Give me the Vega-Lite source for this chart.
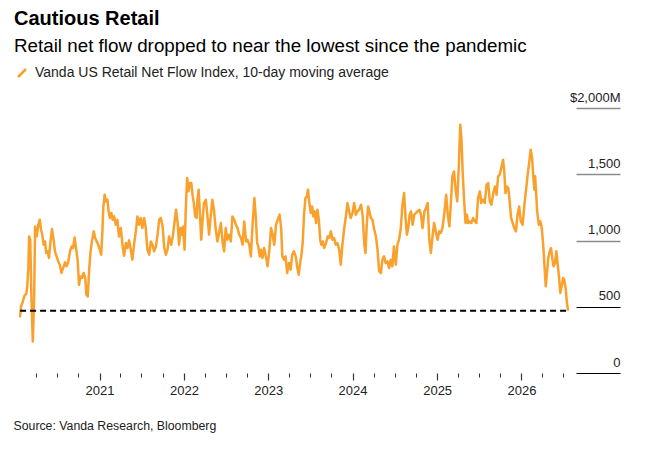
{
  "$schema": "https://vega.github.io/schema/vega-lite/v6.json",
  "width": 561,
  "height": 265,
  "autosize": {"type": "none"},
  "padding": {"left": 15, "top": 108, "right": 89, "bottom": 78},
  "background": "white",
  "config": {
    "font": "Liberation Sans",
    "view": {"stroke": null}
  },
  "title": {
    "text": "Cautious Retail",
    "subtitle": "Retail net flow dropped to near the lowest since the pandemic",
    "anchor": "start",
    "frame": "group",
    "dx": -1,
    "offset": 10,
    "fontSize": 20,
    "fontWeight": "bold",
    "color": "#000",
    "subtitleFontSize": 18.8,
    "subtitleColor": "#000",
    "subtitlePadding": 8
  },
  "datasets": {
    "flows": [
      {"date": "2020-01-23", "flow": 427}, {"date": "2020-01-27", "flow": 503}, {"date": "2020-02-04", "flow": 540},
      {"date": "2020-02-11", "flow": 583}, {"date": "2020-02-19", "flow": 598}, {"date": "2020-02-23", "flow": 654},
      {"date": "2020-02-28", "flow": 805}, {"date": "2020-03-02", "flow": 1031}, {"date": "2020-03-07", "flow": 1006},
      {"date": "2020-03-12", "flow": 578}, {"date": "2020-03-18", "flow": 238}, {"date": "2020-03-24", "flow": 578},
      {"date": "2020-03-28", "flow": 1106}, {"date": "2020-04-04", "flow": 1031}, {"date": "2020-04-11", "flow": 1119},
      {"date": "2020-04-17", "flow": 1157}, {"date": "2020-04-23", "flow": 1081}, {"date": "2020-04-28", "flow": 1044},
      {"date": "2020-05-04", "flow": 968}, {"date": "2020-05-10", "flow": 993}, {"date": "2020-05-15", "flow": 906},
      {"date": "2020-05-21", "flow": 918}, {"date": "2020-05-27", "flow": 868}, {"date": "2020-06-02", "flow": 981},
      {"date": "2020-06-09", "flow": 1087}, {"date": "2020-06-16", "flow": 1006}, {"date": "2020-06-22", "flow": 918},
      {"date": "2020-06-29", "flow": 880}, {"date": "2020-07-06", "flow": 842}, {"date": "2020-07-13", "flow": 817},
      {"date": "2020-07-20", "flow": 755}, {"date": "2020-07-27", "flow": 792}, {"date": "2020-08-05", "flow": 835},
      {"date": "2020-08-11", "flow": 805}, {"date": "2020-08-19", "flow": 842}, {"date": "2020-08-26", "flow": 918},
      {"date": "2020-09-02", "flow": 955}, {"date": "2020-09-08", "flow": 943}, {"date": "2020-09-15", "flow": 1023},
      {"date": "2020-09-23", "flow": 918}, {"date": "2020-09-28", "flow": 855}, {"date": "2020-10-04", "flow": 666},
      {"date": "2020-10-10", "flow": 729}, {"date": "2020-10-17", "flow": 717}, {"date": "2020-10-24", "flow": 755},
      {"date": "2020-10-31", "flow": 717}, {"date": "2020-11-05", "flow": 591}, {"date": "2020-11-11", "flow": 578},
      {"date": "2020-11-17", "flow": 780}, {"date": "2020-11-23", "flow": 918}, {"date": "2020-11-30", "flow": 1006},
      {"date": "2020-12-07", "flow": 1069}, {"date": "2020-12-13", "flow": 1019}, {"date": "2020-12-20", "flow": 993},
      {"date": "2020-12-26", "flow": 968}, {"date": "2021-01-02", "flow": 931}, {"date": "2021-01-08", "flow": 893},
      {"date": "2021-01-13", "flow": 1057}, {"date": "2021-01-17", "flow": 1245}, {"date": "2021-01-23", "flow": 1346},
      {"date": "2021-01-28", "flow": 1295}, {"date": "2021-02-04", "flow": 1308}, {"date": "2021-02-10", "flow": 1208},
      {"date": "2021-02-15", "flow": 1170}, {"date": "2021-02-21", "flow": 1208}, {"date": "2021-02-27", "flow": 1157},
      {"date": "2021-03-05", "flow": 1182}, {"date": "2021-03-12", "flow": 1119}, {"date": "2021-03-19", "flow": 1157},
      {"date": "2021-03-26", "flow": 1031}, {"date": "2021-04-03", "flow": 1094}, {"date": "2021-04-10", "flow": 968},
      {"date": "2021-04-17", "flow": 885}, {"date": "2021-04-25", "flow": 981}, {"date": "2021-05-02", "flow": 943},
      {"date": "2021-05-09", "flow": 1001}, {"date": "2021-05-16", "flow": 931}, {"date": "2021-05-23", "flow": 855},
      {"date": "2021-05-31", "flow": 981}, {"date": "2021-06-07", "flow": 1069}, {"date": "2021-06-14", "flow": 1182},
      {"date": "2021-06-21", "flow": 1119}, {"date": "2021-06-28", "flow": 1170}, {"date": "2021-07-05", "flow": 1094},
      {"date": "2021-07-13", "flow": 1170}, {"date": "2021-07-20", "flow": 1094}, {"date": "2021-07-27", "flow": 931},
      {"date": "2021-08-04", "flow": 893}, {"date": "2021-08-11", "flow": 993}, {"date": "2021-08-18", "flow": 968},
      {"date": "2021-08-25", "flow": 918}, {"date": "2021-09-02", "flow": 955}, {"date": "2021-09-09", "flow": 1044},
      {"date": "2021-09-16", "flow": 1157}, {"date": "2021-09-23", "flow": 1170}, {"date": "2021-10-01", "flow": 1106},
      {"date": "2021-10-08", "flow": 943}, {"date": "2021-10-15", "flow": 893}, {"date": "2021-10-22", "flow": 931},
      {"date": "2021-10-29", "flow": 1031}, {"date": "2021-11-07", "flow": 968}, {"date": "2021-11-14", "flow": 1031},
      {"date": "2021-11-21", "flow": 1132}, {"date": "2021-11-28", "flow": 1232}, {"date": "2021-12-05", "flow": 1132},
      {"date": "2021-12-11", "flow": 968}, {"date": "2021-12-17", "flow": 1094}, {"date": "2021-12-22", "flow": 1044},
      {"date": "2021-12-28", "flow": 1106}, {"date": "2022-01-04", "flow": 931}, {"date": "2022-01-09", "flow": 1232},
      {"date": "2022-01-15", "flow": 1472}, {"date": "2022-01-21", "flow": 1371}, {"date": "2022-01-27", "flow": 1434},
      {"date": "2022-02-02", "flow": 1434}, {"date": "2022-02-08", "flow": 1333}, {"date": "2022-02-13", "flow": 1283},
      {"date": "2022-02-19", "flow": 1182}, {"date": "2022-02-25", "flow": 1170}, {"date": "2022-02-28", "flow": 1295},
      {"date": "2022-03-06", "flow": 1383}, {"date": "2022-03-11", "flow": 1208}, {"date": "2022-03-17", "flow": 1006},
      {"date": "2022-03-23", "flow": 1157}, {"date": "2022-03-29", "flow": 1283}, {"date": "2022-04-06", "flow": 1308},
      {"date": "2022-04-13", "flow": 1182}, {"date": "2022-04-20", "flow": 1044}, {"date": "2022-04-27", "flow": 1182},
      {"date": "2022-05-04", "flow": 1308}, {"date": "2022-05-11", "flow": 1232}, {"date": "2022-05-19", "flow": 1081},
      {"date": "2022-05-26", "flow": 993}, {"date": "2022-06-02", "flow": 1057}, {"date": "2022-06-10", "flow": 1132},
      {"date": "2022-06-17", "flow": 993}, {"date": "2022-06-24", "flow": 918}, {"date": "2022-07-01", "flow": 1094},
      {"date": "2022-07-08", "flow": 1006}, {"date": "2022-07-15", "flow": 1044}, {"date": "2022-07-23", "flow": 993},
      {"date": "2022-07-30", "flow": 1182}, {"date": "2022-08-07", "flow": 1157}, {"date": "2022-08-14", "flow": 1119},
      {"date": "2022-08-21", "flow": 1094}, {"date": "2022-08-28", "flow": 1044}, {"date": "2022-09-05", "flow": 1019},
      {"date": "2022-09-12", "flow": 968}, {"date": "2022-09-19", "flow": 1144}, {"date": "2022-09-27", "flow": 993},
      {"date": "2022-10-03", "flow": 1006}, {"date": "2022-10-11", "flow": 968}, {"date": "2022-10-18", "flow": 880},
      {"date": "2022-10-25", "flow": 1119}, {"date": "2022-11-02", "flow": 1321}, {"date": "2022-11-08", "flow": 1182},
      {"date": "2022-11-14", "flow": 981}, {"date": "2022-11-19", "flow": 955}, {"date": "2022-11-25", "flow": 880},
      {"date": "2022-11-30", "flow": 931}, {"date": "2022-12-07", "flow": 868}, {"date": "2022-12-14", "flow": 943},
      {"date": "2022-12-22", "flow": 880}, {"date": "2022-12-29", "flow": 805}, {"date": "2023-01-06", "flow": 931},
      {"date": "2023-01-13", "flow": 1094}, {"date": "2023-01-20", "flow": 1044}, {"date": "2023-01-27", "flow": 968},
      {"date": "2023-02-04", "flow": 1119}, {"date": "2023-02-11", "flow": 1157}, {"date": "2023-02-19", "flow": 1195},
      {"date": "2023-02-26", "flow": 1094}, {"date": "2023-03-03", "flow": 880}, {"date": "2023-03-10", "flow": 855},
      {"date": "2023-03-17", "flow": 880}, {"date": "2023-03-24", "flow": 755}, {"date": "2023-04-01", "flow": 830},
      {"date": "2023-04-08", "flow": 780}, {"date": "2023-04-15", "flow": 893}, {"date": "2023-04-22", "flow": 918},
      {"date": "2023-04-30", "flow": 880}, {"date": "2023-05-07", "flow": 792}, {"date": "2023-05-13", "flow": 742},
      {"date": "2023-05-19", "flow": 830}, {"date": "2023-05-24", "flow": 880}, {"date": "2023-05-30", "flow": 981},
      {"date": "2023-06-05", "flow": 1195}, {"date": "2023-06-11", "flow": 1321}, {"date": "2023-06-17", "flow": 1333},
      {"date": "2023-06-22", "flow": 1383}, {"date": "2023-06-28", "flow": 1283}, {"date": "2023-07-04", "flow": 1208},
      {"date": "2023-07-10", "flow": 1257}, {"date": "2023-07-15", "flow": 1182}, {"date": "2023-07-21", "flow": 1220},
      {"date": "2023-07-27", "flow": 1132}, {"date": "2023-08-02", "flow": 1232}, {"date": "2023-08-08", "flow": 1157},
      {"date": "2023-08-14", "flow": 1006}, {"date": "2023-08-19", "flow": 968}, {"date": "2023-08-25", "flow": 993},
      {"date": "2023-08-31", "flow": 943}, {"date": "2023-09-08", "flow": 981}, {"date": "2023-09-15", "flow": 1031},
      {"date": "2023-09-22", "flow": 1019}, {"date": "2023-09-29", "flow": 1069}, {"date": "2023-10-06", "flow": 1006},
      {"date": "2023-10-13", "flow": 1019}, {"date": "2023-10-20", "flow": 968}, {"date": "2023-10-27", "flow": 981},
      {"date": "2023-11-04", "flow": 931}, {"date": "2023-11-11", "flow": 817}, {"date": "2023-11-18", "flow": 968},
      {"date": "2023-11-25", "flow": 1081}, {"date": "2023-12-03", "flow": 1182}, {"date": "2023-12-10", "flow": 1283},
      {"date": "2023-12-17", "flow": 1220}, {"date": "2023-12-24", "flow": 1170}, {"date": "2024-01-01", "flow": 1208},
      {"date": "2024-01-08", "flow": 1283}, {"date": "2024-01-15", "flow": 1195}, {"date": "2024-01-22", "flow": 1220},
      {"date": "2024-01-29", "flow": 1232}, {"date": "2024-02-07", "flow": 1270}, {"date": "2024-02-14", "flow": 1182},
      {"date": "2024-02-21", "flow": 968}, {"date": "2024-02-26", "flow": 906}, {"date": "2024-03-02", "flow": 1106},
      {"date": "2024-03-08", "flow": 1257}, {"date": "2024-03-14", "flow": 1220}, {"date": "2024-03-20", "flow": 1170},
      {"date": "2024-03-27", "flow": 1157}, {"date": "2024-04-04", "flow": 1081}, {"date": "2024-04-11", "flow": 1031},
      {"date": "2024-04-18", "flow": 931}, {"date": "2024-04-25", "flow": 767}, {"date": "2024-05-03", "flow": 755},
      {"date": "2024-05-09", "flow": 855}, {"date": "2024-05-16", "flow": 880}, {"date": "2024-05-23", "flow": 830},
      {"date": "2024-05-31", "flow": 842}, {"date": "2024-06-07", "flow": 792}, {"date": "2024-06-14", "flow": 855},
      {"date": "2024-06-21", "flow": 805}, {"date": "2024-06-28", "flow": 955}, {"date": "2024-07-06", "flow": 817},
      {"date": "2024-07-13", "flow": 968}, {"date": "2024-07-20", "flow": 1006}, {"date": "2024-07-27", "flow": 1081},
      {"date": "2024-08-04", "flow": 1270}, {"date": "2024-08-11", "flow": 1358}, {"date": "2024-08-17", "flow": 1182},
      {"date": "2024-08-23", "flow": 1044}, {"date": "2024-08-29", "flow": 1094}, {"date": "2024-09-04", "flow": 1195},
      {"date": "2024-09-10", "flow": 1220}, {"date": "2024-09-17", "flow": 1119}, {"date": "2024-09-24", "flow": 1195},
      {"date": "2024-10-02", "flow": 1208}, {"date": "2024-10-08", "flow": 1220}, {"date": "2024-10-16", "flow": 1232},
      {"date": "2024-10-23", "flow": 1195}, {"date": "2024-10-30", "flow": 1094}, {"date": "2024-11-07", "flow": 1220},
      {"date": "2024-11-14", "flow": 1245}, {"date": "2024-11-21", "flow": 1283}, {"date": "2024-11-28", "flow": 1006},
      {"date": "2024-12-05", "flow": 906}, {"date": "2024-12-12", "flow": 1031}, {"date": "2024-12-19", "flow": 1132},
      {"date": "2024-12-26", "flow": 1069}, {"date": "2025-01-03", "flow": 1006}, {"date": "2025-01-10", "flow": 1069},
      {"date": "2025-01-17", "flow": 1057}, {"date": "2025-01-24", "flow": 1094}, {"date": "2025-02-02", "flow": 1220},
      {"date": "2025-02-09", "flow": 1346}, {"date": "2025-02-16", "flow": 1195}, {"date": "2025-02-23", "flow": 1106},
      {"date": "2025-03-01", "flow": 1270}, {"date": "2025-03-08", "flow": 1484}, {"date": "2025-03-15", "flow": 1521},
      {"date": "2025-03-22", "flow": 1383}, {"date": "2025-03-29", "flow": 1295}, {"date": "2025-04-05", "flow": 1572},
      {"date": "2025-04-11", "flow": 1874}, {"date": "2025-04-16", "flow": 1774}, {"date": "2025-04-22", "flow": 1497},
      {"date": "2025-04-28", "flow": 1295}, {"date": "2025-05-04", "flow": 1132}, {"date": "2025-05-10", "flow": 1195},
      {"date": "2025-05-15", "flow": 1132}, {"date": "2025-05-22", "flow": 1144}, {"date": "2025-05-29", "flow": 1132},
      {"date": "2025-06-06", "flow": 1170}, {"date": "2025-06-13", "flow": 1144}, {"date": "2025-06-20", "flow": 1132},
      {"date": "2025-06-27", "flow": 1321}, {"date": "2025-07-05", "flow": 1371}, {"date": "2025-07-11", "flow": 1283},
      {"date": "2025-07-19", "flow": 1308}, {"date": "2025-07-26", "flow": 1283}, {"date": "2025-08-03", "flow": 1421},
      {"date": "2025-08-10", "flow": 1434}, {"date": "2025-08-17", "flow": 1295}, {"date": "2025-08-24", "flow": 1270},
      {"date": "2025-09-01", "flow": 1358}, {"date": "2025-09-08", "flow": 1408}, {"date": "2025-09-15", "flow": 1346},
      {"date": "2025-09-22", "flow": 1484}, {"date": "2025-09-29", "flow": 1497}, {"date": "2025-10-07", "flow": 1559},
      {"date": "2025-10-13", "flow": 1610}, {"date": "2025-10-18", "flow": 1534}, {"date": "2025-10-24", "flow": 1358},
      {"date": "2025-10-30", "flow": 1408}, {"date": "2025-11-05", "flow": 1396}, {"date": "2025-11-11", "flow": 1295},
      {"date": "2025-11-17", "flow": 1170}, {"date": "2025-11-24", "flow": 1132}, {"date": "2025-12-01", "flow": 1094},
      {"date": "2025-12-08", "flow": 1069}, {"date": "2025-12-15", "flow": 1195}, {"date": "2025-12-22", "flow": 1257},
      {"date": "2025-12-29", "flow": 1144}, {"date": "2026-01-06", "flow": 1119}, {"date": "2026-01-13", "flow": 1257},
      {"date": "2026-01-20", "flow": 1371}, {"date": "2026-01-27", "flow": 1484}, {"date": "2026-02-04", "flow": 1597},
      {"date": "2026-02-10", "flow": 1685}, {"date": "2026-02-16", "flow": 1623}, {"date": "2026-02-21", "flow": 1484},
      {"date": "2026-02-26", "flow": 1383}, {"date": "2026-03-01", "flow": 1484}, {"date": "2026-03-05", "flow": 1371},
      {"date": "2026-03-10", "flow": 1220}, {"date": "2026-03-17", "flow": 1119}, {"date": "2026-03-24", "flow": 1144},
      {"date": "2026-03-30", "flow": 1094}, {"date": "2026-04-06", "flow": 943}, {"date": "2026-04-12", "flow": 767},
      {"date": "2026-04-16", "flow": 654}, {"date": "2026-04-22", "flow": 767}, {"date": "2026-04-27", "flow": 868},
      {"date": "2026-05-03", "flow": 918}, {"date": "2026-05-09", "flow": 943}, {"date": "2026-05-14", "flow": 868},
      {"date": "2026-05-20", "flow": 805}, {"date": "2026-05-26", "flow": 830}, {"date": "2026-06-01", "flow": 918},
      {"date": "2026-06-07", "flow": 817}, {"date": "2026-06-13", "flow": 717}, {"date": "2026-06-18", "flow": 604},
      {"date": "2026-06-24", "flow": 654}, {"date": "2026-06-30", "flow": 717}, {"date": "2026-07-05", "flow": 704},
      {"date": "2026-07-11", "flow": 641}, {"date": "2026-07-17", "flow": 528}, {"date": "2026-07-21", "flow": 478}
    ],
    "floor": [
      {"from": "2020-01-23", "to": "2026-07-21", "level": 470}
    ]
  },
  "resolve": {"axis": {"x": "independent"}},
  "layer": [
    {
      "data": {"name": "flows"},
      "mark": {"type": "line", "strokeWidth": 2.5, "strokeJoin": "round", "strokeCap": "round"},
      "encoding": {
        "x": {
          "field": "date",
          "type": "temporal",
          "scale": {
            "type": "utc",
            "domain": [
              {"year": 2020, "month": 1, "date": 1, "utc": true},
              {"year": 2026, "month": 8, "date": 25, "utc": true}
            ]
          },
          "axis": {
            "orient": "bottom",
            "title": "Source: Vanda Research, Bloomberg",
            "titleFontSize": 12.3,
            "titleFontWeight": "normal",
            "titleColor": "#222",
            "titleAnchor": "start",
            "titleAlign": "left",
            "titleBaseline": "alphabetic",
            "titleX": -2,
            "titleY": 56,
            "domain": false,
            "grid": false,
            "labels": false,
            "values": [
              {"year": 2020, "month": 4, "date": 1, "utc": true},
              {"year": 2020, "month": 7, "date": 1, "utc": true},
              {"year": 2020, "month": 10, "date": 1, "utc": true},
              {"year": 2021, "month": 4, "date": 1, "utc": true},
              {"year": 2021, "month": 7, "date": 1, "utc": true},
              {"year": 2021, "month": 10, "date": 1, "utc": true},
              {"year": 2022, "month": 4, "date": 1, "utc": true},
              {"year": 2022, "month": 7, "date": 1, "utc": true},
              {"year": 2022, "month": 10, "date": 1, "utc": true},
              {"year": 2023, "month": 4, "date": 1, "utc": true},
              {"year": 2023, "month": 7, "date": 1, "utc": true},
              {"year": 2023, "month": 10, "date": 1, "utc": true},
              {"year": 2024, "month": 4, "date": 1, "utc": true},
              {"year": 2024, "month": 7, "date": 1, "utc": true},
              {"year": 2024, "month": 10, "date": 1, "utc": true},
              {"year": 2025, "month": 4, "date": 1, "utc": true},
              {"year": 2025, "month": 7, "date": 1, "utc": true},
              {"year": 2025, "month": 10, "date": 1, "utc": true},
              {"year": 2026, "month": 4, "date": 1, "utc": true},
              {"year": 2026, "month": 7, "date": 1, "utc": true}
            ],
            "tickColor": "#333",
            "tickWidth": 1,
            "tickSize": 4
          }
        },
        "y": {
          "field": "flow",
          "type": "quantitative",
          "scale": {"domain": [0, 2000], "nice": false},
          "axis": {
            "orient": "right",
            "title": null,
            "domain": false,
            "grid": false,
            "values": [0, 500, 1000, 1500, 2000],
            "tickSize": 44,
            "tickColor": {"condition": {"test": "datum.value <= 500", "value": "#000"}, "value": "#8c8c8c"},
            "tickWidth": {"condition": {"test": "datum.value <= 500", "value": 1}, "value": 1.6},
            "labelAlign": "right",
            "labelBaseline": "alphabetic",
            "labelPadding": 0,
            "labelOffset": -7,
            "labelFontSize": 13,
            "labelColor": "#222",
            "labelFlush": false,
            "labelOverlap": false,
            "labelExpr": "datum.value === 2000 ? '$2,000M' : format(datum.value, ',')"
          }
        },
        "color": {
          "datum": "Vanda US Retail Net Flow Index, 10-day moving average",
          "scale": {"range": ["#f9a12c"]},
          "legend": {
            "title": null,
            "orient": "none",
            "legendX": 0,
            "legendY": -42,
            "padding": 0,
            "symbolType": "M-1,1L1,-1",
            "symbolSize": 64,
            "symbolStrokeWidth": 2.5,
            "labelFontSize": 14,
            "labelColor": "#222",
            "labelOffset": 6,
            "labelLimit": 500
          }
        }
      }
    },
    {
      "data": {"name": "floor"},
      "mark": {"type": "rule", "color": "#000", "strokeWidth": 2, "strokeDash": [6, 4]},
      "encoding": {
        "x": {
          "field": "from",
          "type": "temporal",
          "axis": {
            "orient": "bottom",
            "title": null,
            "domain": false,
            "grid": false,
            "values": [
              {"year": 2021, "month": 1, "date": 1, "utc": true},
              {"year": 2022, "month": 1, "date": 1, "utc": true},
              {"year": 2023, "month": 1, "date": 1, "utc": true},
              {"year": 2024, "month": 1, "date": 1, "utc": true},
              {"year": 2025, "month": 1, "date": 1, "utc": true},
              {"year": 2026, "month": 1, "date": 1, "utc": true}
            ],
            "format": "%Y",
            "formatType": "utc",
            "labelFontSize": 13,
            "labelColor": "#222",
            "labelPadding": 4,
            "labelOverlap": false,
            "labelFlush": false,
            "tickColor": "#333",
            "tickWidth": 1.2,
            "tickSize": 7
          }
        },
        "x2": {"field": "to"},
        "y": {"field": "level", "type": "quantitative"}
      }
    }
  ]
}
